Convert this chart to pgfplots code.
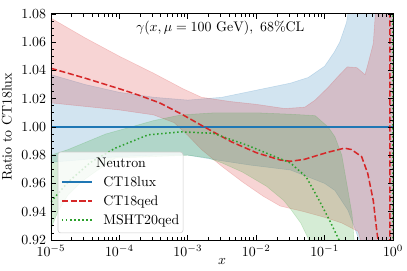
\documentclass[border=0pt]{standalone}
\usepackage{pgfplots}
\pgfplotsset{compat=1.18}
\definecolor{tblue}{HTML}{1F77B4}
\definecolor{tred}{HTML}{D62728}
\definecolor{tgreen}{HTML}{2CA02C}
\begin{document}
\begin{tikzpicture}
\useasboundingbox (-36.7pt,-22.3pt) rectangle (256.2pt,172.7pt);
\begin{axis}[
  at={(0,0)}, anchor=south west,
  scale only axis, width=246.2pt, height=162.7pt,
  xmode=log, xmin=1e-5, xmax=1, ymin=0.92, ymax=1.08,
  xtick={1e-5,1e-4,1e-3,1e-2,1e-1,1},
  ytick={0.92,0.94,0.96,0.98,1.00,1.02,1.04,1.06,1.08},
  yticklabel style={/pgf/number format/.cd, fixed, fixed zerofill, precision=2},
  minor y tick num=3,
  tick align=inside, xtick pos=both, ytick pos=both,
  major tick length=3.5pt, minor tick length=2pt,
  every tick/.style={black, line width=0.5pt},
  axis line style={line width=0.6pt},
  xlabel={$x$}, ylabel={Ratio to CT18lux},
  xlabel style={at={(axis description cs:0.5,-0.097)}, anchor=center},
  axis on top,
]
% CT18lux band
\addplot[fill=tblue, fill opacity=0.2, draw=tblue, draw opacity=0.2, forget plot] coordinates {
(1e-5,1.037) (3.1623e-5,1.030) (1e-4,1.0245) (3.1623e-4,1.021) (1e-3,1.019) (3.1623e-3,1.021) (1e-2,1.026) (3.1623e-2,1.031) (5.7544e-2,1.035) (0.1,1.043) (0.13804,1.053) (0.16596,1.060) (0.20893,1.074) (0.25119,1.10) (0.31623,1.15) (1,1.2)
(1,0.85) (0.35481,0.90) (0.31623,0.92) (0.28184,0.927) (0.21878,0.941) (0.14125,0.955) (0.1,0.960) (3.1623e-2,0.9695) (8.1283e-3,0.973) (2.6303e-3,0.9766) (1e-3,0.980) (3.1623e-4,0.980) (1e-4,0.979) (3.1623e-5,0.977) (1e-5,0.975)
} -- cycle;
% CT18qed band
\addplot[fill=tred, fill opacity=0.2, draw=tred, draw opacity=0.2, forget plot] coordinates {
(1e-5,1.077) (3.1623e-5,1.063) (1e-4,1.050) (3.1623e-4,1.038) (8.5114e-4,1.027) (1.5849e-3,1.021) (4.1687e-3,1.018) (1e-2,1.016) (2.6303e-2,1.013) (5.1286e-2,1.014) (7.2444e-2,1.019) (0.11220,1.028) (0.15849,1.036) (0.21380,1.0425) (0.29512,1.042) (0.38905,1.037) (0.42658,1.044) (0.51286,1.059) (0.54954,1.08) (0.63096,1.2) (1,1.2)
(1,0.85) (0.50119,0.88) (0.35481,0.915) (0.30903,0.926) (0.17783,0.932) (0.1,0.936) (5.0119e-2,0.940) (2.2387e-2,0.944) (1.2589e-2,0.951) (6.3096e-3,0.961) (3.1623e-3,0.972) (1.5849e-3,0.984) (1e-3,0.994) (6.3096e-4,1.003) (3.1623e-4,1.0085) (1e-4,1.012) (3.1623e-5,1.0145) (1e-5,1.017)
} -- cycle;
% MSHT20qed band
\addplot[fill=tgreen, fill opacity=0.2, draw=tgreen, draw opacity=0.2, forget plot] coordinates {
(1e-5,0.980) (1.7783e-5,0.984) (3.1623e-5,0.989) (6.3096e-5,0.995) (1.4791e-4,1.0) (3.1623e-4,1.0045) (7.9433e-4,1.0085) (2.5119e-3,1.010) (1e-2,1.010) (3.1623e-2,1.009) (7.2444e-2,1.008) (0.11220,1.0) (0.14125,0.993) (0.17783,0.98) (0.21878,0.955) (0.25119,0.938) (0.26915,0.92) (0.28184,0.90) (0.31623,0.85)
(0.070795,0.905) (5.6234e-2,0.922) (4.4668e-2,0.932) (3.1623e-2,0.942) (2.5119e-2,0.948) (1.4125e-2,0.958) (6.3096e-3,0.968) (3.1623e-3,0.9745) (1.9953e-3,0.978) (1e-3,0.980) (3.1623e-4,0.979) (8.7096e-5,0.978) (4.3652e-5,0.968) (2.7542e-5,0.961) (1.7783e-5,0.952) (1.2589e-5,0.940) (1e-5,0.928)
} -- cycle;
% CT18lux central
\addplot[color=tblue, line width=1pt, forget plot] coordinates {(1e-5,1) (1,1)};
% CT18qed central
\addplot[color=tred, line width=1.1pt, dash pattern=on 4.4pt off 1.9pt, forget plot] coordinates {
(1e-5,1.0415) (3.1623e-5,1.0345) (1e-4,1.027) (1.8621e-4,1.0227) (3.8905e-4,1.017) (8.5114e-4,1.0085) (1.7378e-3,1.0) (4.3652e-3,0.9894) (1.0233e-2,0.9816) (2.2387e-2,0.9766) (3.1623e-2,0.9757) (5.0119e-2,0.977) (0.10965,0.982) (0.19498,0.985) (0.24547,0.984) (0.34674,0.979) (0.42658,0.967) (0.51286,0.948) (0.57544,0.927) (0.60256,0.92) (0.63096,0.90) (0.89125,0.80) (0.90157,1.2) (1,1.3)
};
% MSHT20qed central
\addplot[color=tgreen, line width=1.1pt, dash pattern=on 1.1pt off 1.8pt, forget plot] coordinates {
(1e-5,0.947) (1.7783e-5,0.961) (3.8019e-5,0.975) (8.7096e-5,0.985) (2.6303e-4,0.9944) (7.9433e-4,0.9965) (2.3442e-3,0.9955) (7.4131e-3,0.987) (3.1623e-2,0.9745) (5.3703e-2,0.9646) (8.3176e-2,0.948) (0.11749,0.934) (0.16218,0.92) (0.19953,0.90) (0.98855,0.80) (1,1.3)
};
\node[anchor=center] at (axis description cs:0.495,0.938) {$\gamma(x,\mu=100~\mathrm{GeV}),~68\%\mathrm{CL}$};
% legend
\draw[draw=black!20, fill=white, fill opacity=0.8, rounded corners=2pt] (axis description cs:0.0205,0.031) rectangle (axis description cs:0.386,0.389);
\node[anchor=base, inner sep=0pt] at (axis description cs:0.2047,0.3198) {Neutron};
\draw[draw=tblue, line width=1pt] (axis description cs:0.032,0.2566) -- (axis description cs:0.120,0.2566);
\node[anchor=base west, inner sep=0pt] at (axis description cs:0.152,0.2357) {CT18lux};
\draw[draw=tred, line width=1.1pt, dash pattern=on 4.4pt off 1.9pt] (axis description cs:0.032,0.1726) -- (axis description cs:0.120,0.1726);
\node[anchor=base west, inner sep=0pt] at (axis description cs:0.152,0.1517) {CT18qed};
\draw[draw=tgreen, line width=1.1pt, dash pattern=on 1.1pt off 1.8pt] (axis description cs:0.032,0.0885) -- (axis description cs:0.120,0.0885);
\node[anchor=base west, inner sep=0pt] at (axis description cs:0.152,0.0676) {MSHT20qed};
\end{axis}
\end{tikzpicture}
\end{document}
